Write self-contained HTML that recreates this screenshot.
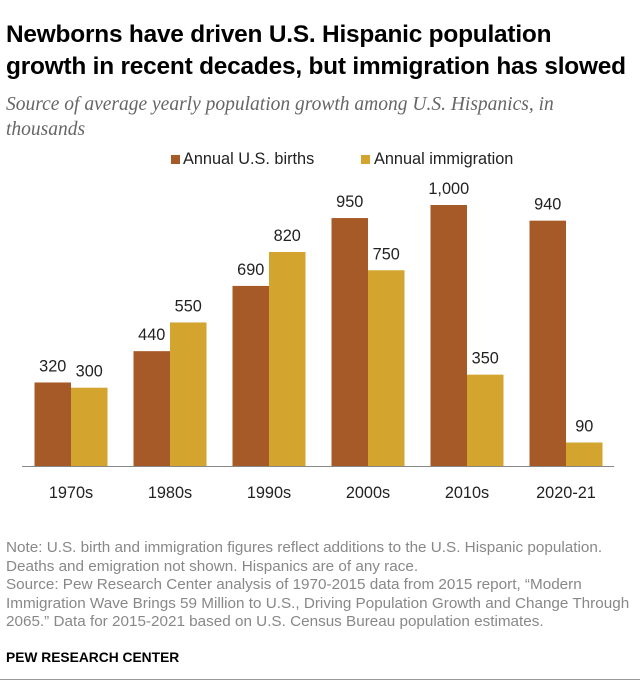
<!DOCTYPE html>
<html><head><meta charset="utf-8"><style>
body{margin:0;background:#fff;width:640px;height:693px;overflow:hidden;font-family:"Liberation Sans",sans-serif;position:relative}
.t{position:absolute;left:6px;top:19px;font-size:24.4px;font-weight:bold;line-height:32px;color:#000;letter-spacing:-0.2px;white-space:nowrap}
.s{position:absolute;left:6px;top:92px;font-family:"Liberation Serif",serif;font-style:italic;font-size:19.5px;line-height:25px;color:#666;white-space:nowrap}
.n{position:absolute;left:6px;top:539px;font-size:14.4px;line-height:18.5px;color:#888;white-space:nowrap;transform:scaleX(1.06);transform-origin:left top}
.p{position:absolute;left:6px;top:650px;font-size:13.8px;font-weight:bold;color:#000}
.r{position:absolute;left:0;top:679px;width:640px;height:1px;background:#999}
</style></head><body>
<div class="t">Newborns have driven U.S. Hispanic population<br>growth in recent decades, but immigration has slowed</div>
<div class="s">Source of average yearly population growth among U.S. Hispanics, in<br>thousands</div>
<svg id="c" width="640" height="520" style="position:absolute;left:0;top:140px"></svg>
<div class="n">Note: U.S. birth and immigration figures reflect additions to the U.S. Hispanic population.<br>Deaths and emigration not shown. Hispanics are of any race.<br>Source: Pew Research Center analysis of 1970-2015 data from 2015 report, “Modern<br>Immigration Wave Brings 59 Million to U.S., Driving Population Growth and Change Through<br>2065.” Data for 2015-2021 based on U.S. Census Bureau population estimates.</div>
<div class="p">PEW RESEARCH CENTER</div>
<div class="r"></div>
<script>
const categories=["1970s","1980s","1990s","2000s","2010s","2020-21"];
const births=[320,440,690,950,1000,940];
const immigration=[300,550,820,750,350,90];
const birthLabels=["320","440","690","950","1,000","940"];
const immLabels=["300","550","820","750","350","90"];
const svg=document.getElementById('c');
const NS='http://www.w3.org/2000/svg';
const base=326, k=0.261, bw=36.5;
const y=v=>base-v*k;
const xc=i=>71+i*99;
function mk(t,a){const e=document.createElementNS(NS,t);for(const q in a)e.setAttribute(q,a[q]);svg.appendChild(e);return e;}
function txt(x,yy,s,sz,anchor){const e=mk('text',{x:x,y:yy,'font-size':sz,'text-anchor':anchor||'middle',fill:'#222','font-family':'Liberation Sans, sans-serif'});e.textContent=s;return e;}
let e=mk('rect',{x:171,y:15,width:9,height:9,fill:'#A65A27'});

e=txt(183,24,'Annual U.S. births',16.3,'start');

e=mk('rect',{x:361,y:15,width:9,height:9,fill:'#D3A52F'});

e=txt(374,24,'Annual immigration',16.3,'start');

categories.forEach((c,i)=>{
  let b=mk('rect',{x:xc(i)-bw,y:y(births[i]),width:bw,height:births[i]*k,fill:'#A65A27'});
  
  let m=mk('rect',{x:xc(i),y:y(immigration[i]),width:bw,height:immigration[i]*k,fill:'#D3A52F'});
  
  let l1=txt(xc(i)-bw/2,y(births[i])-11,birthLabels[i],16.3);
  
  let l2=txt(xc(i)+bw/2,y(immigration[i])-11,immLabels[i],16.3);
  
  let cl=txt(xc(i),358,c,16.3);
  
});
e=mk('line',{x1:22,x2:614,y1:base+0.5,y2:base+0.5,stroke:'#888','stroke-width':1});

</script>
</body></html>
